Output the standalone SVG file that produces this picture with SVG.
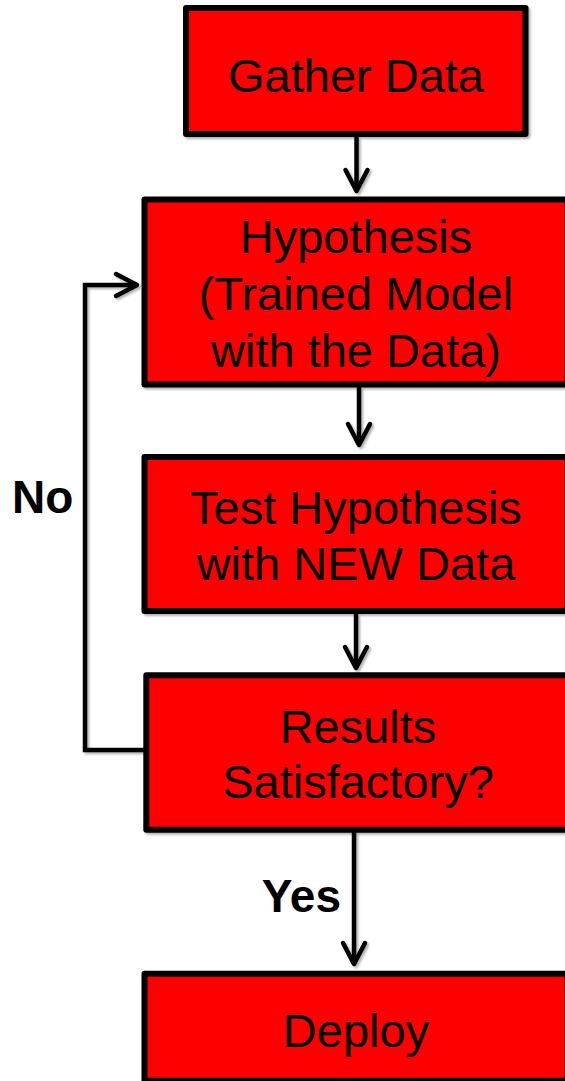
<svg xmlns="http://www.w3.org/2000/svg" width="565" height="1081" viewBox="0 0 565 1081">
  <style>
    .box { fill: #ff0000; stroke: #000000; stroke-width: 6; stroke-linejoin: round; filter: url(#sh); }
    .lbl { font-family: "Liberation Sans", Arial, sans-serif; font-size: 47px; fill: #000000; text-anchor: middle; }
    .edge { font-family: "Liberation Sans", Arial, sans-serif; font-size: 46px; font-weight: bold; fill: #000000; }
    .conn { fill: none; stroke: #000000; stroke-width: 4.5; }
  </style>
  <defs>
    <filter id="sh" x="-20%" y="-20%" width="140%" height="140%">
      <feDropShadow dx="2" dy="2" stdDeviation="1.2" flood-color="#000000" flood-opacity="0.3"/>
    </filter>
    <marker id="arr" markerUnits="userSpaceOnUse" viewBox="-26 -14 30 28" refX="0" refY="0" markerWidth="30" markerHeight="28" orient="auto" overflow="visible">
      <path d="M-21,-11 L0,0 L-21,11" fill="none" stroke="#000000" stroke-width="4.5" stroke-linecap="round" stroke-linejoin="round"/>
    </marker>
  </defs>
  <rect width="565" height="1081" fill="#ffffff"/>

  <g id="connectors">
    <g filter="url(#sh)">
      <line class="conn" x1="356.5" y1="137" x2="356.5" y2="191" marker-end="url(#arr)"/>
      <line class="conn" x1="359" y1="387" x2="359" y2="445" marker-end="url(#arr)"/>
      <line class="conn" x1="356" y1="614" x2="356" y2="668" marker-end="url(#arr)"/>
      <line class="conn" x1="354" y1="832" x2="354" y2="964" marker-end="url(#arr)"/>
      <path class="conn" d="M147,750 L85,750 L85,285 L137,285" marker-end="url(#arr)"/>
    </g>
    <text class="edge" x="12" y="513">No</text>
    <text class="edge" x="341" y="912" text-anchor="end">Yes</text>
  </g>

  <g id="gather">
    <rect class="box" x="186" y="8" width="339.5" height="126"/>
    <text class="lbl" x="356" y="92">Gather Data</text>
  </g>

  <g id="hypothesis">
    <rect class="box" x="144.5" y="199.5" width="423" height="185"/>
    <text class="lbl" x="356" y="253">Hypothesis</text>
    <text class="lbl" x="356" y="310">(Trained Model</text>
    <text class="lbl" x="356" y="367">with the Data)</text>
  </g>

  <g id="test">
    <rect class="box" x="144.5" y="457" width="423" height="154"/>
    <text class="lbl" x="356" y="524">Test Hypothesis</text>
    <text class="lbl" x="356" y="580">with NEW Data</text>
  </g>

  <g id="results">
    <rect class="box" x="146.3" y="675.3" width="422" height="154.4"/>
    <text class="lbl" x="358" y="743">Results</text>
    <text class="lbl" x="358" y="798">Satisfactory?</text>
  </g>

  <g id="deploy">
    <rect class="box" x="144.5" y="973.7" width="423" height="107"/>
    <text class="lbl" x="356" y="1047">Deploy</text>
  </g>
</svg>
